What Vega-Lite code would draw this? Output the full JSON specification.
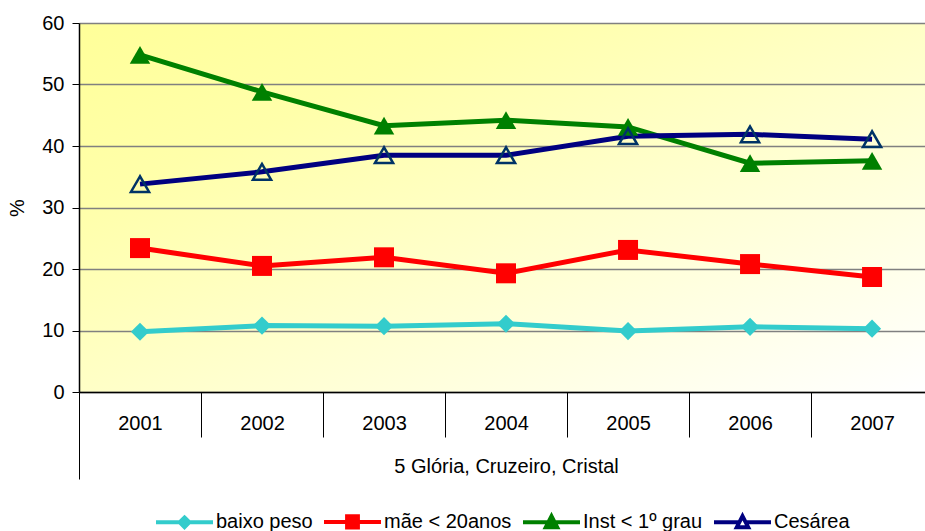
{
  "$schema": "https://vega.github.io/schema/vega-lite/v6.json",
  "width": 846,
  "height": 369,
  "autosize": {"type": "none"},
  "padding": {"left": 79, "top": 23, "right": 0, "bottom": 139},
  "background": "#ffffff",
  "config": {
    "font": "Liberation Sans",
    "view": {
      "stroke": null,
      "fill": {
        "gradient": "linear",
        "x1": 0, "y1": 0, "x2": 1, "y2": 1,
        "stops": [
          {"offset": 0, "color": "#ffff99"},
          {"offset": 0.25, "color": "#ffffaa"},
          {"offset": 1, "color": "#ffffff"}
        ]
      }
    },
    "axis": {"labelColor": "#000000", "titleColor": "#000000", "labelFont": "Liberation Sans", "titleFont": "Liberation Sans"}
  },
  "data": {
    "values": [
      {"year": 2001, "series": "baixo peso", "value": 9.8},
      {"year": 2002, "series": "baixo peso", "value": 10.8},
      {"year": 2003, "series": "baixo peso", "value": 10.7},
      {"year": 2004, "series": "baixo peso", "value": 11.1},
      {"year": 2005, "series": "baixo peso", "value": 9.9},
      {"year": 2006, "series": "baixo peso", "value": 10.6},
      {"year": 2007, "series": "baixo peso", "value": 10.3},
      {"year": 2001, "series": "mãe < 20anos", "value": 23.4},
      {"year": 2002, "series": "mãe < 20anos", "value": 20.5},
      {"year": 2003, "series": "mãe < 20anos", "value": 21.9},
      {"year": 2004, "series": "mãe < 20anos", "value": 19.3},
      {"year": 2005, "series": "mãe < 20anos", "value": 23.1},
      {"year": 2006, "series": "mãe < 20anos", "value": 20.8},
      {"year": 2007, "series": "mãe < 20anos", "value": 18.7},
      {"year": 2001, "series": "Inst < 1º grau", "value": 54.8},
      {"year": 2002, "series": "Inst < 1º grau", "value": 48.8},
      {"year": 2003, "series": "Inst < 1º grau", "value": 43.3},
      {"year": 2004, "series": "Inst < 1º grau", "value": 44.2},
      {"year": 2005, "series": "Inst < 1º grau", "value": 43.1},
      {"year": 2006, "series": "Inst < 1º grau", "value": 37.2},
      {"year": 2007, "series": "Inst < 1º grau", "value": 37.6},
      {"year": 2001, "series": "Cesárea", "value": 33.8},
      {"year": 2002, "series": "Cesárea", "value": 35.8},
      {"year": 2003, "series": "Cesárea", "value": 38.5},
      {"year": 2004, "series": "Cesárea", "value": 38.5},
      {"year": 2005, "series": "Cesárea", "value": 41.6},
      {"year": 2006, "series": "Cesárea", "value": 41.9},
      {"year": 2007, "series": "Cesárea", "value": 41.1}
    ]
  },
  "encoding": {
    "x": {
      "field": "year",
      "type": "quantitative",
      "scale": {"domain": [2000.5, 2007.434], "nice": false, "zero": false},
      "axis": {
        "values": [2000.5, 2001.5, 2002.5, 2003.5, 2004.5, 2005.5, 2006.5],
        "labelExpr": "'' + (datum.value + 0.5)",
        "labelOffset": 61,
        "tickSize": {"condition": {"test": "datum.value < 2001", "value": 87}, "value": 45},
        "labelPadding": {"condition": {"test": "datum.value < 2001", "value": -66}, "value": -24},
        "labelFontSize": 20,
        "labelAngle": 0,
        "labelAlign": "center",
        "labelBaseline": "top",
        "labelFlush": false,
        "labelOverlap": false,
        "grid": false,
        "domainColor": "#000000",
        "domainWidth": 1.5,
        "tickColor": "#000000",
        "tickWidth": 1,
        "title": "5 Glória, Cruzeiro, Cristal",
        "titleFontSize": 20,
        "titleFontWeight": "normal",
        "titleX": 427,
        "titleY": 64,
        "titleBaseline": "top"
      }
    },
    "y": {
      "field": "value",
      "type": "quantitative",
      "scale": {"domain": [0, 60], "nice": false},
      "axis": {
        "values": [0, 10, 20, 30, 40, 50, 60],
        "grid": true,
        "gridColor": "#808080",
        "gridWidth": 1.5,
        "tickSize": 7,
        "tickColor": "#000000",
        "domainColor": "#000000",
        "domainWidth": 1.5,
        "labelPadding": 8,
        "labelFontSize": 20,
        "title": "%",
        "titleFontSize": 20,
        "titleFontWeight": "normal",
        "titleX": -52,
        "titleY": 184.5,
        "titleAngle": -90,
        "titleBaseline": "bottom",
        "titleAlign": "center"
      }
    }
  },
  "layer": [
    {
      "mark": {"type": "line", "strokeWidth": 5},
      "encoding": {
        "color": {
          "field": "series",
          "type": "nominal",
          "scale": {
            "domain": ["baixo peso", "mãe < 20anos", "Inst < 1º grau", "Cesárea"],
            "range": ["#33cccc", "#ff0000", "#008000", "#000080"]
          },
          "legend": {
            "orient": "none",
            "legendX": 75,
            "legendY": 468,
            "direction": "horizontal",
            "title": null,
            "symbolSize": 3249,
            "labelFontSize": 20,
            "labelFont": "Liberation Sans",
            "labelColor": "#000000",
            "labelOffset": 1,
            "columnPadding": 3,
            "padding": 0,
            "encode": {
              "symbols": {
                "update": {
                  "shape": {"signal": "datum.value == 'baixo peso' ? 'M-1,0H1M0,-0.17L0.17,0L0,0.17L-0.17,0Z' : datum.value == 'mãe < 20anos' ? 'M-1,0H1M-0.19,-0.2H0.19V0.2H-0.19Z' : datum.value == 'Cesárea' ? 'M-1,0H-0.1M0.1,0H1M0,-0.22L0.2,0.17H-0.2Z' : 'M-1,0H1M0,-0.22L0.2,0.17H-0.2Z'"},
                  "fill": {"signal": "datum.value == 'baixo peso' ? '#33cccc' : datum.value == 'mãe < 20anos' ? '#ff0000' : datum.value == 'Cesárea' ? '#ffffff' : '#008000'"},
                  "stroke": {"signal": "datum.value == 'baixo peso' ? '#33cccc' : datum.value == 'mãe < 20anos' ? '#ff0000' : datum.value == 'Cesárea' ? '#000080' : '#008000'"},
                  "strokeWidth": {"value": 4},
                  "opacity": {"value": 1},
                  "fillOpacity": {"value": 1},
                  "strokeOpacity": {"value": 1}
                }
              }
            }
          }
        }
      }
    },
    {
      "transform": [{"filter": "datum.series == 'baixo peso'"}],
      "mark": {"type": "point", "shape": "diamond", "filled": true, "size": 330, "color": "#33cccc", "opacity": 1}
    },
    {
      "transform": [{"filter": "datum.series == 'mãe < 20anos'"}],
      "mark": {"type": "square", "filled": true, "size": 400, "color": "#ff0000", "opacity": 1}
    },
    {
      "transform": [{"filter": "datum.series == 'Inst < 1º grau'"}],
      "mark": {"type": "point", "shape": "triangle-up", "filled": true, "size": 420, "color": "#008000", "opacity": 1}
    },
    {
      "transform": [{"filter": "datum.series == 'Cesárea'"}],
      "mark": {"type": "point", "shape": "triangle-up", "filled": false, "size": 330, "stroke": "#003366", "strokeWidth": 2.5, "opacity": 1}
    }
  ]
}
